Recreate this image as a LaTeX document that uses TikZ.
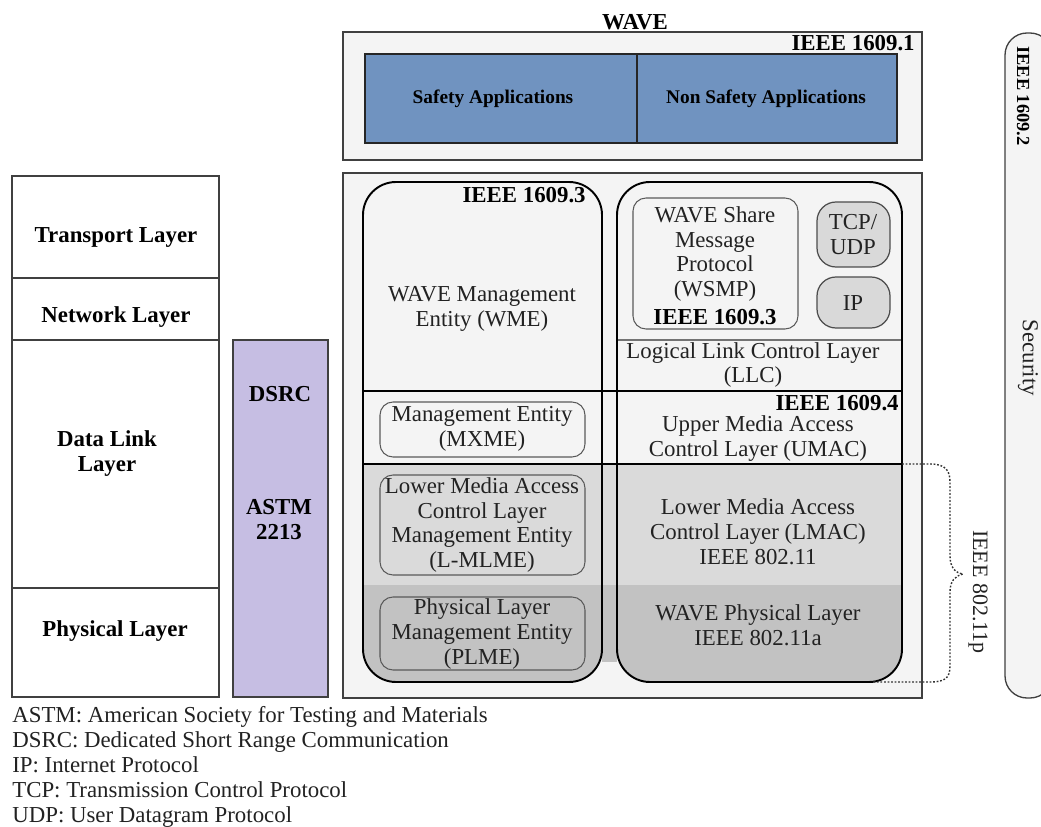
\documentclass[tikz,border=0pt]{standalone}
\usepackage{fontspec}
\setmainfont{Liberation Serif}
\definecolor{bgl}{HTML}{F4F4F4}
\definecolor{appblue}{HTML}{7093C0}
\definecolor{dsrcpurple}{HTML}{C6BEE3}
\definecolor{bandA}{HTML}{DADADA}
\definecolor{bandB}{HTML}{C2C2C2}
\definecolor{protofill}{HTML}{D9D9D9}
\definecolor{ink}{HTML}{222222}
\begin{document}
\begin{tikzpicture}[x=0.02cm,y=-0.02cm,
  txt/.style={font=\fontsize{13}{14.2}\selectfont, align=center, inner sep=0pt, text=ink},
  btxt/.style={font=\fontsize{13}{14.2}\selectfont\bfseries, align=center, inner sep=0pt, text=black},
  apptxt/.style={font=\fontsize{11}{13}\selectfont\bfseries, align=center, inner sep=0pt, text=black},
  outer/.style={draw=black!75, line width=0.75pt},
  appbox/.style={draw=black!85, line width=0.8pt, fill=appblue},
  bigr/.style={draw=black, line width=1.1pt, rounded corners=0.66cm},
  smallr/.style={draw=black!65, line width=0.6pt, rounded corners=0.26cm},
  protobox/.style={draw=black!70, line width=0.7pt, fill=protofill, rounded corners=0.38cm},
  hline/.style={draw=black, line width=0.8pt},
  llcline/.style={draw=black!55, line width=0.6pt},
  bracepath/.style={draw=black!80, line width=0.8pt, dash pattern=on 1pt off 1pt},
  legend/.style={font=\fontsize{13}{14.2}\selectfont, inner sep=0pt, anchor=base west, text=ink}
]
\clip (0,0) rectangle (1041,827);
\fill[white] (0,0) rectangle (1041,827);

% ---------- top WAVE box ----------
\node[btxt] (wave) at (635,22) {WAVE};
\draw[outer, fill=bgl] (343,32) rectangle (922,160);
\node[btxt, anchor=east] (ieeeA) at (915,43) {IEEE 1609.1};
\draw[appbox] (365,54) rectangle (637,143);
\draw[appbox] (637,54) rectangle (897,143);
\node[apptxt] (safety) at (493,99) {Safety Applications};
\node[apptxt] (nonsafety) at (766,99) {Non Safety Applications};

% ---------- security bar ----------
\draw[outer, fill=bgl, rounded corners=0.44cm] (1005,33) rectangle (1052,698);
\node[btxt, font=\fontsize{10.5}{12}\selectfont\bfseries, rotate=-90] (ieeeB) at (1023,96) {IEEE 1609.2};
\node[txt, rotate=-90] (security) at (1028,358) {Security};

% ---------- OSI layers ----------
\draw[outer, fill=white] (12,176) rectangle (219,697);
\draw[outer] (12,278) -- (219,278);
\draw[outer] (12,340) -- (219,340);
\draw[outer] (12,588) -- (219,588);
\node[btxt] (transport) at (116,237) {Transport Layer};
\node[btxt] (network) at (116,317) {Network Layer};
\node[btxt] (datalink) at (107,454) {Data Link\\Layer};
\node[btxt] (physical) at (115,631) {Physical Layer};

\draw[outer, fill=dsrcpurple] (233,340) rectangle (328,697);
\node[btxt] (dsrc) at (280,394) {DSRC};
\node[btxt] (astm) at (279,520) {ASTM\\2213};

% ---------- lower WAVE stack ----------
\draw[outer, fill=bgl] (343,173) rectangle (922,698);
\begin{scope}
  \clip[rounded corners=0.66cm] (363,182) rectangle (602,682);
  \fill[bandA] (363,464) rectangle (602,585);
  \fill[bandB] (363,585) rectangle (602,690);
\end{scope}
\begin{scope}
  \clip[rounded corners=0.66cm] (617,182) rectangle (902,682);
  \fill[bandA] (617,464) rectangle (902,585);
  \fill[bandB] (617,585) rectangle (902,690);
\end{scope}
\fill[bandA] (602,464) rectangle (617,585);
\fill[bandB] (602,585) rectangle (617,662);

\draw[llcline] (617,340) -- (902,340);
\draw[hline] (363,391) -- (902,391);
\draw[hline] (363,464) -- (902,464);
\coordinate (braceTop) at (902,464);
\coordinate (braceBot) at (873,682);

\draw[bigr] (363,182) rectangle (602,682);
\draw[bigr] (617,182) rectangle (902,682);

% left column (management)
\node[btxt, anchor=east] (ieeeC) at (586,195) {IEEE 1609.3};
\node[txt] (wme) at (482,309) {WAVE Management\\Entity (WME)};
\draw[smallr] (380,402) rectangle (585,457);
\node[txt] (mxme) at (482,429) {Management Entity\\(MXME)};
\draw[smallr] (380,475) rectangle (585,575);
\node[txt] (lmlme) at (482,525) {Lower Media Access\\Control Layer\\Management Entity\\(L-MLME)};
\draw[smallr] (380,597) rectangle (585,670);
\node[txt] (plme) at (482,634) {Physical Layer\\Management Entity\\(PLME)};

% right column (data plane)
\draw[smallr] (633,198) rectangle (798,329);
\node[txt] (wsmp) at (715,254) {WAVE Share\\Message\\Protocol\\(WSMP)};
\node[btxt] (ieeeD) at (715,317) {IEEE 1609.3};
\draw[protobox] (817,202) rectangle (890,267);
\node[txt] (tcp) at (853,235) {TCP/\\UDP};
\draw[protobox] (817,277) rectangle (890,328);
\node[txt] (ip) at (853,303) {IP};
\node[txt] (llc) at (753,365) {Logical Link Control Layer\\(LLC)};
\node[btxt, anchor=east] (ieeeE) at (899,403) {IEEE 1609.4};
\node[txt] (umac) at (758,439) {Upper Media Access\\Control Layer (UMAC)};
\node[txt] (lmac) at (758,532) {Lower Media Access\\Control Layer (LMAC)\\IEEE 802.11};
\node[txt] (phy) at (758,625) {WAVE Physical Layer\\IEEE 802.11a};

% 802.11p brace
\draw[bracepath] (braceTop) -- (930,464) .. controls (945,464) and (950,470) .. (950,482)
  -- (950,556) .. controls (950,567) and (955,573) .. (963,574)
  .. controls (955,576) and (950,581) .. (950,592)
  -- (950,666) .. controls (950,678) and (945,682) .. (930,682) -- (braceBot);
\node[txt, font=\fontsize{12.5}{14}\selectfont, rotate=-90] (p80211) at (978,592) {IEEE 802.11p};

% ---------- legend ----------
\node[legend] (lg1) at (12,722) {ASTM: American Society for Testing and Materials};
\node[legend] (lg2) at (12,747) {DSRC: Dedicated Short Range Communication};
\node[legend] (lg3) at (12,772) {IP: Internet Protocol};
\node[legend] (lg4) at (12,797) {TCP: Transmission Control Protocol};
\node[legend] (lg5) at (12,822) {UDP: User Datagram Protocol};
\end{tikzpicture}
\end{document}
